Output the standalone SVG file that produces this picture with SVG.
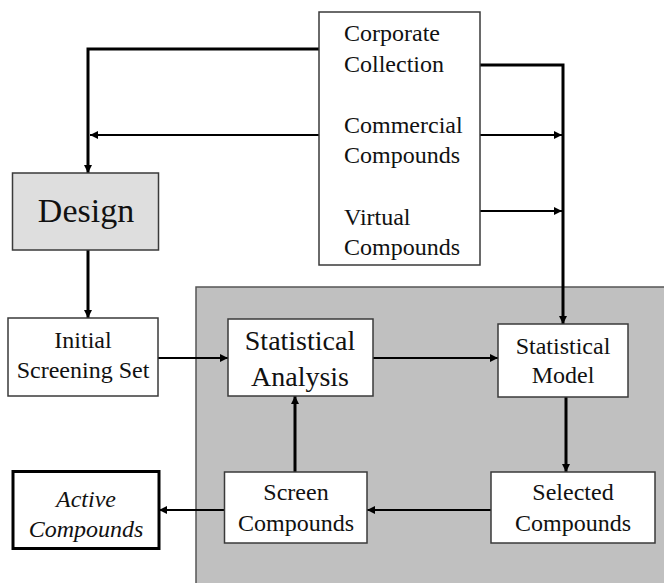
<svg xmlns="http://www.w3.org/2000/svg" width="664" height="583" viewBox="0 0 664 583">
<style>
.box{fill:#ffffff;stroke:#3a3a3a;stroke-width:1.5}
.t{font-size:24px;fill:#111;text-anchor:middle}
.tl{font-size:24px;fill:#111}
.c{fill:none;stroke:#000;stroke-width:2}
.ct{fill:none;stroke:#000;stroke-width:3}
</style>
<defs>
<marker id="ah" viewBox="0 0 10 10" refX="10" refY="5" markerWidth="9" markerHeight="8" markerUnits="userSpaceOnUse" orient="auto">
<path d="M0,0 L10,5 L0,10 z" fill="#000"/>
</marker>
</defs>
<rect id="background-panel" x="196" y="287" width="470" height="300" fill="#c0c0c0" stroke="#555" stroke-width="1.5"/>
<g id="connectors">
<path class="ct" d="M319,49 H88 V173" marker-end="url(#ah)"/>
<path class="c" d="M319,135 H90" marker-end="url(#ah)"/>
<path class="ct" d="M480,65 H563 V324" marker-end="url(#ah)"/>
<path class="c" d="M480,135 H562" marker-end="url(#ah)"/>
<path class="c" d="M480,211 H562" marker-end="url(#ah)"/>
<path class="ct" d="M88,250 V318" marker-end="url(#ah)"/>
<path class="c" d="M158,358 H228" marker-end="url(#ah)"/>
<path class="c" d="M373,358 H498" marker-end="url(#ah)"/>
<path class="ct" d="M566,397 V472" marker-end="url(#ah)"/>
<path class="c" d="M491,510 H367" marker-end="url(#ah)"/>
<path class="ct" d="M295,472 V396" marker-end="url(#ah)"/>
<path class="c" d="M224,510 H159" marker-end="url(#ah)"/>
</g>
<g font-family="Liberation Serif, Times New Roman, serif">
<g id="sources">
<rect class="box" x="319" y="12" width="161" height="253"/>
<text class="tl" x="344" y="41">Corporate</text>
<text class="tl" x="344" y="72">Collection</text>
<text class="tl" x="344" y="133">Commercial</text>
<text class="tl" x="344" y="163">Compounds</text>
<text class="tl" x="344" y="225">Virtual</text>
<text class="tl" x="344" y="255">Compounds</text>
</g>
<g id="design">
<rect x="12.5" y="173" width="146" height="77" fill="#dedede" stroke="#3a3a3a" stroke-width="1.5"/>
<text class="t" x="86" y="222" style="font-size:34px">Design</text>
</g>
<g id="initial-screening-set">
<rect class="box" x="8" y="318" width="150" height="78"/>
<text class="t" x="83" y="348">Initial</text>
<text class="t" x="83" y="378">Screening Set</text>
</g>
<g id="statistical-analysis">
<rect class="box" x="228" y="319" width="145" height="77"/>
<text class="t" x="300" y="350" style="font-size:28px">Statistical</text>
<text class="t" x="300" y="386" style="font-size:28px">Analysis</text>
</g>
<g id="statistical-model">
<rect class="box" x="498" y="324" width="130" height="73"/>
<text class="t" x="563" y="354">Statistical</text>
<text class="t" x="563" y="383">Model</text>
</g>
<g id="selected-compounds">
<rect class="box" x="491" y="472" width="164" height="71"/>
<text class="t" x="573" y="500">Selected</text>
<text class="t" x="573" y="531">Compounds</text>
</g>
<g id="screen-compounds">
<rect class="box" x="224.5" y="472" width="142.5" height="71"/>
<text class="t" x="296" y="500">Screen</text>
<text class="t" x="296" y="531">Compounds</text>
</g>
<g id="active-compounds">
<rect x="13" y="471.5" width="146" height="77" fill="#fff" stroke="#000" stroke-width="3"/>
<text class="t" x="86" y="507" font-style="italic">Active</text>
<text class="t" x="86" y="537" font-style="italic">Compounds</text>
</g>
</g>
</svg>
